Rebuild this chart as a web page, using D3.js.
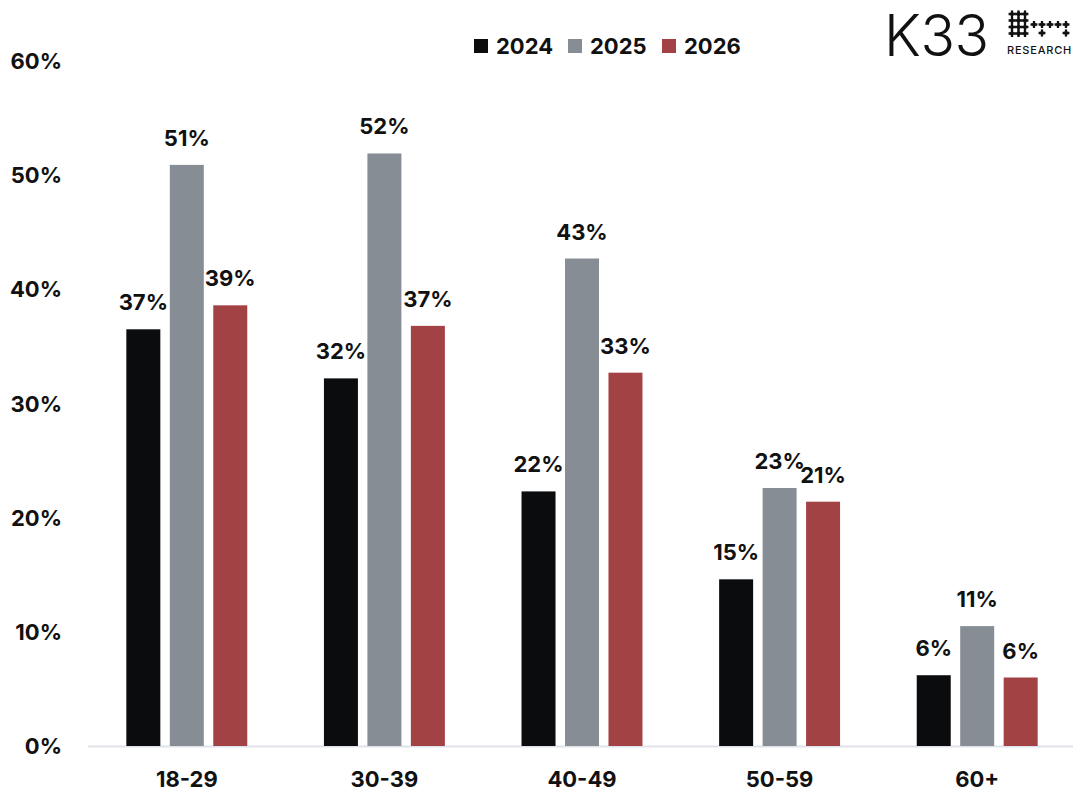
<!DOCTYPE html>
<html lang="en">
<head>
    <meta charset="UTF-8">
    <title>Share by age group</title>
    <script src="https://d3js.org/d3.v7.min.js"></script>
    <style>
        body {
            margin: 0;
            padding: 0;
            background-color: #fff;
        }
        svg text {
            font-family: Inter, "Noto Sans", sans-serif;
            fill: #111;
        }
    </style>
</head>
<body>
    <svg id="chart" width="1073" height="795"></svg>

    <script>
        const ageGroups = ['18-29', '30-39', '40-49', '50-59', '60+'];
        const years = ['2024', '2025', '2026'];
        const values2024 = [0.365, 0.322, 0.223, 0.146, 0.062];
        const values2025 = [0.509, 0.519, 0.427, 0.226, 0.105];
        const values2026 = [0.386, 0.368, 0.327, 0.214, 0.060];
        const yTicks = [0, 0.1, 0.2, 0.3, 0.4, 0.5, 0.6];
        const colors = ['#0b0c0e', '#868d95', '#a34244'];

        const seriesValues = [values2024, values2025, values2026];

        const svg = d3.select('#chart');

        const x0 = d3.scaleBand()
            .domain(ageGroups)
            .range([88, 1076])
            .paddingInner(0.388)
            .paddingOuter(0.194);

        const x1 = d3.scaleBand()
            .domain(years)
            .range([0, x0.bandwidth()])
            .paddingInner(0.218);

        const y = d3.scaleLinear()
            .domain([0, 0.6])
            .range([746, 61]);

        const pct = d3.format('.0%');
        const fontSize = '22px';

        // y tick labels (no gridlines)
        svg.append('g')
            .selectAll('text')
            .data(yTicks)
            .enter()
            .append('text')
            .attr('x', 62)
            .attr('y', d => y(d))
            .attr('text-anchor', 'end')
            .attr('dominant-baseline', 'central')
            .style('font-size', fontSize)
            .style('font-weight', 700)
            .text(d => pct(d));

        // baseline
        svg.append('line')
            .attr('x1', 88)
            .attr('x2', 1073)
            .attr('y1', y(0) + 0.5)
            .attr('y2', y(0) + 0.5)
            .attr('stroke', '#dfe3e9')
            .attr('stroke-width', 2);

        // bars
        const rows = [];
        ageGroups.forEach((g, i) => {
            years.forEach((yr, j) => {
                rows.push({group: g, year: yr, value: seriesValues[j][i], color: colors[j]});
            });
        });

        svg.append('g')
            .selectAll('rect')
            .data(rows)
            .enter()
            .append('rect')
            .attr('x', d => x0(d.group) + x1(d.year))
            .attr('y', d => y(d.value))
            .attr('width', x1.bandwidth())
            .attr('height', d => y(0) - y(d.value))
            .attr('fill', d => d.color);

        // value labels
        svg.append('g')
            .selectAll('text')
            .data(rows)
            .enter()
            .append('text')
            .attr('x', d => x0(d.group) + x1(d.year) + x1.bandwidth() / 2)
            .attr('y', d => y(d.value) - 19)
            .attr('text-anchor', 'middle')
            .style('font-size', fontSize)
            .style('font-weight', 700)
            .text(d => pct(d.value));

        // x labels
        svg.append('g')
            .selectAll('text')
            .data(ageGroups)
            .enter()
            .append('text')
            .attr('x', d => x0(d) + x0.bandwidth() / 2)
            .attr('y', 779)
            .attr('text-anchor', 'middle')
            .attr('dominant-baseline', 'central')
            .style('font-size', fontSize)
            .style('font-weight', 700)
            .text(d => d);

        // legend
        const legendX = [474, 568, 662];
        const legend = svg.append('g')
            .selectAll('g')
            .data(years)
            .enter()
            .append('g')
            .attr('transform', (d, i) => `translate(${legendX[i]},46)`);

        legend.append('rect')
            .attr('x', 0)
            .attr('y', -7)
            .attr('width', 14)
            .attr('height', 14)
            .attr('fill', (d, i) => colors[i]);

        legend.append('text')
            .attr('x', 22)
            .attr('y', 0)
            .attr('dominant-baseline', 'central')
            .style('font-size', fontSize)
            .style('font-weight', 700)
            .text(d => d);

        // K33 logo
        const logo = svg.append('g');
        logo.append('text')
            .attr('x', 884)
            .attr('y', 56)
            .style('font-size', '57px')
            .style('font-weight', 300)
            .style('letter-spacing', '-0.5px')
            .text('K33');

        const dots = [];
        [14, 20.5, 27, 33.5].forEach(dy => {
            [1012, 1018.5, 1025].forEach(dx => dots.push([dx, dy]));
        });
        [1034, 1042, 1050, 1058, 1066].forEach((dx, k) => {
            dots.push([dx, 24.5]);
            if (k === 1 || k === 4) dots.push([dx, 33]);
        });

        const dotG = logo.append('g')
            .selectAll('g')
            .data(dots)
            .enter()
            .append('g')
            .attr('transform', d => `translate(${d[0]},${d[1]})`);

        dotG.append('path')
            .attr('d', d3.symbol().type(d3.symbolCross).size(26))
            .attr('fill', '#111');
        dotG.append('path')
            .attr('d', d3.symbol().type(d3.symbolDiamond).size(16))
            .attr('fill', '#111');

        logo.append('text')
            .attr('x', 1007)
            .attr('y', 54)
            .style('font-size', '11px')
            .style('font-weight', 500)
            .style('letter-spacing', '0.8px')
            .text('RESEARCH');
    </script>
</body>
</html>
